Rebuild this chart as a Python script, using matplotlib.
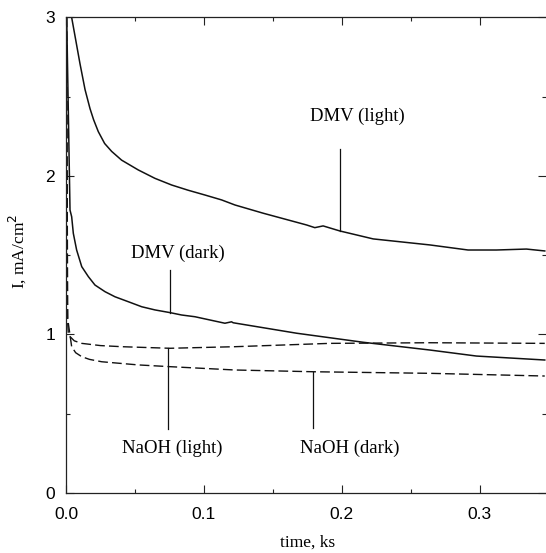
import matplotlib
matplotlib.use('Agg')
import matplotlib.pyplot as plt
from matplotlib.ticker import MultipleLocator, FormatStrFormatter
import numpy as np

# chronoamperometry traces, time in ks, current density in mA/cm2
t_dmv_light = [0.0041, 0.0070, 0.0101, 0.0138, 0.0174, 0.0200, 0.0234, 0.0280, 0.0331, 0.0403, 0.0524,
               0.0645, 0.0766, 0.0886, 0.1007, 0.1128, 0.1225, 0.143,
               0.1744, 0.1804, 0.1864, 0.1986, 0.2227, 0.2638, 0.2915, 0.3121, 0.3338, 0.3471]
i_dmv_light = [3.0, 2.86, 2.71, 2.545, 2.425, 2.355, 2.28, 2.205, 2.155, 2.10, 2.038,
               1.985, 1.943, 1.91, 1.880, 1.849, 1.817, 1.765,
               1.691, 1.674, 1.685, 1.653, 1.603, 1.565, 1.533, 1.533, 1.539, 1.527]

t_dmv_dark = [0.0005, 0.0029, 0.0041, 0.0053, 0.0077, 0.0114, 0.0162, 0.021, 0.0283,
              0.0355, 0.0451, 0.0549, 0.0645, 0.0754, 0.0838, 0.0935,
              0.1152, 0.1200, 0.1212, 0.1672, 0.2154, 0.2638, 0.2976, 0.3471]
i_dmv_dark = [3.0, 1.785, 1.743, 1.638, 1.533, 1.428, 1.365, 1.312, 1.27,
              1.238, 1.207, 1.175, 1.155, 1.138, 1.123, 1.112,
              1.071, 1.080, 1.074, 1.008, 0.951, 0.902, 0.864, 0.839]

t_naoh_light = [0.0004, 0.0010, 0.0012, 0.0017, 0.0060, 0.0114, 0.0250, 0.0404, 0.0754,
                0.1225, 0.1913, 0.2638, 0.3471]
i_naoh_light = [3.0, 1.20, 1.08, 0.997, 0.960, 0.944, 0.930, 0.923, 0.913,
                0.923, 0.944, 0.948, 0.944]

t_naoh_dark = [0.0004, 0.0012, 0.0041, 0.0070, 0.0114, 0.0170, 0.0259, 0.0524, 0.0754,
               0.1225, 0.1792, 0.2638, 0.3471]
i_naoh_dark = [3.0, 1.10, 0.923, 0.885, 0.860, 0.843, 0.828, 0.808, 0.797,
               0.776, 0.765, 0.755, 0.738]

# label text, text position, stick (x, y_from, y_to)
labels = ['DMV (light)', 'DMV (dark)', 'NaOH (light)', 'NaOH (dark)']
label_xy = [(0.2112, 2.379), (0.0812, 1.514), (0.0768, 0.284), (0.2058, 0.284)]
sticks = [(0.1986, 2.168, 1.653), (0.0754, 1.407, 1.138),
          (0.0739, 0.913, 0.405), (0.1792, 0.765, 0.410)]

fig = plt.figure(figsize=(5.46, 5.53), dpi=100)
ax = fig.add_axes([0.1209, 0.1085, 0.8791, 0.8599])

lc = '#111111'
ax.plot(t_dmv_light, i_dmv_light, color=lc, lw=1.1)
ax.plot(t_dmv_dark, i_dmv_dark, color=lc, lw=1.1)
ax.plot(t_naoh_light, i_naoh_light, color=lc, lw=1.0, dashes=(7, 3))
ax.plot(t_naoh_dark, i_naoh_dark, color=lc, lw=1.0, dashes=(7, 3))

for txt, (x, y), (sx, y0, y1) in zip(labels, label_xy, sticks):
    ax.text(x, y, txt, family='Liberation Serif', fontsize=13.5, ha='center', va='center')
    ax.plot([sx, sx], [y0, y1], color=lc, lw=0.9)

ax.set_xlim(0, 0.348)
ax.set_ylim(0, 3)
ax.xaxis.set_major_locator(MultipleLocator(0.1))
ax.xaxis.set_minor_locator(MultipleLocator(0.05))
ax.yaxis.set_major_locator(MultipleLocator(1))
ax.yaxis.set_minor_locator(MultipleLocator(0.5))
ax.xaxis.set_major_formatter(FormatStrFormatter('%.1f'))

ax.tick_params(which='both', direction='in', top=True, right=True, width=0.8, color='#222222')
ax.tick_params(which='major', length=6)
ax.tick_params(which='minor', length=3)
ax.tick_params(axis='x', pad=10, labelsize=12.5)
ax.tick_params(axis='y', pad=8, labelsize=12.5)
for lab in ax.get_xticklabels() + ax.get_yticklabels():
    lab.set_family('Liberation Sans')

for side in ['left', 'bottom', 'top']:
    ax.spines[side].set_linewidth(0.9)
    ax.spines[side].set_color('#222222')
ax.spines['right'].set_visible(False)

ax.set_xlabel('time, ks', family='Liberation Serif', fontsize=12.5)
ax.set_ylabel('I, mA/cm$^2$', family='Liberation Serif', fontsize=12.5)
ax.xaxis.set_label_coords(0.504, -0.088)
ax.yaxis.set_label_coords(-0.08, 0.509)

fig.savefig('out.png', dpi=100)
